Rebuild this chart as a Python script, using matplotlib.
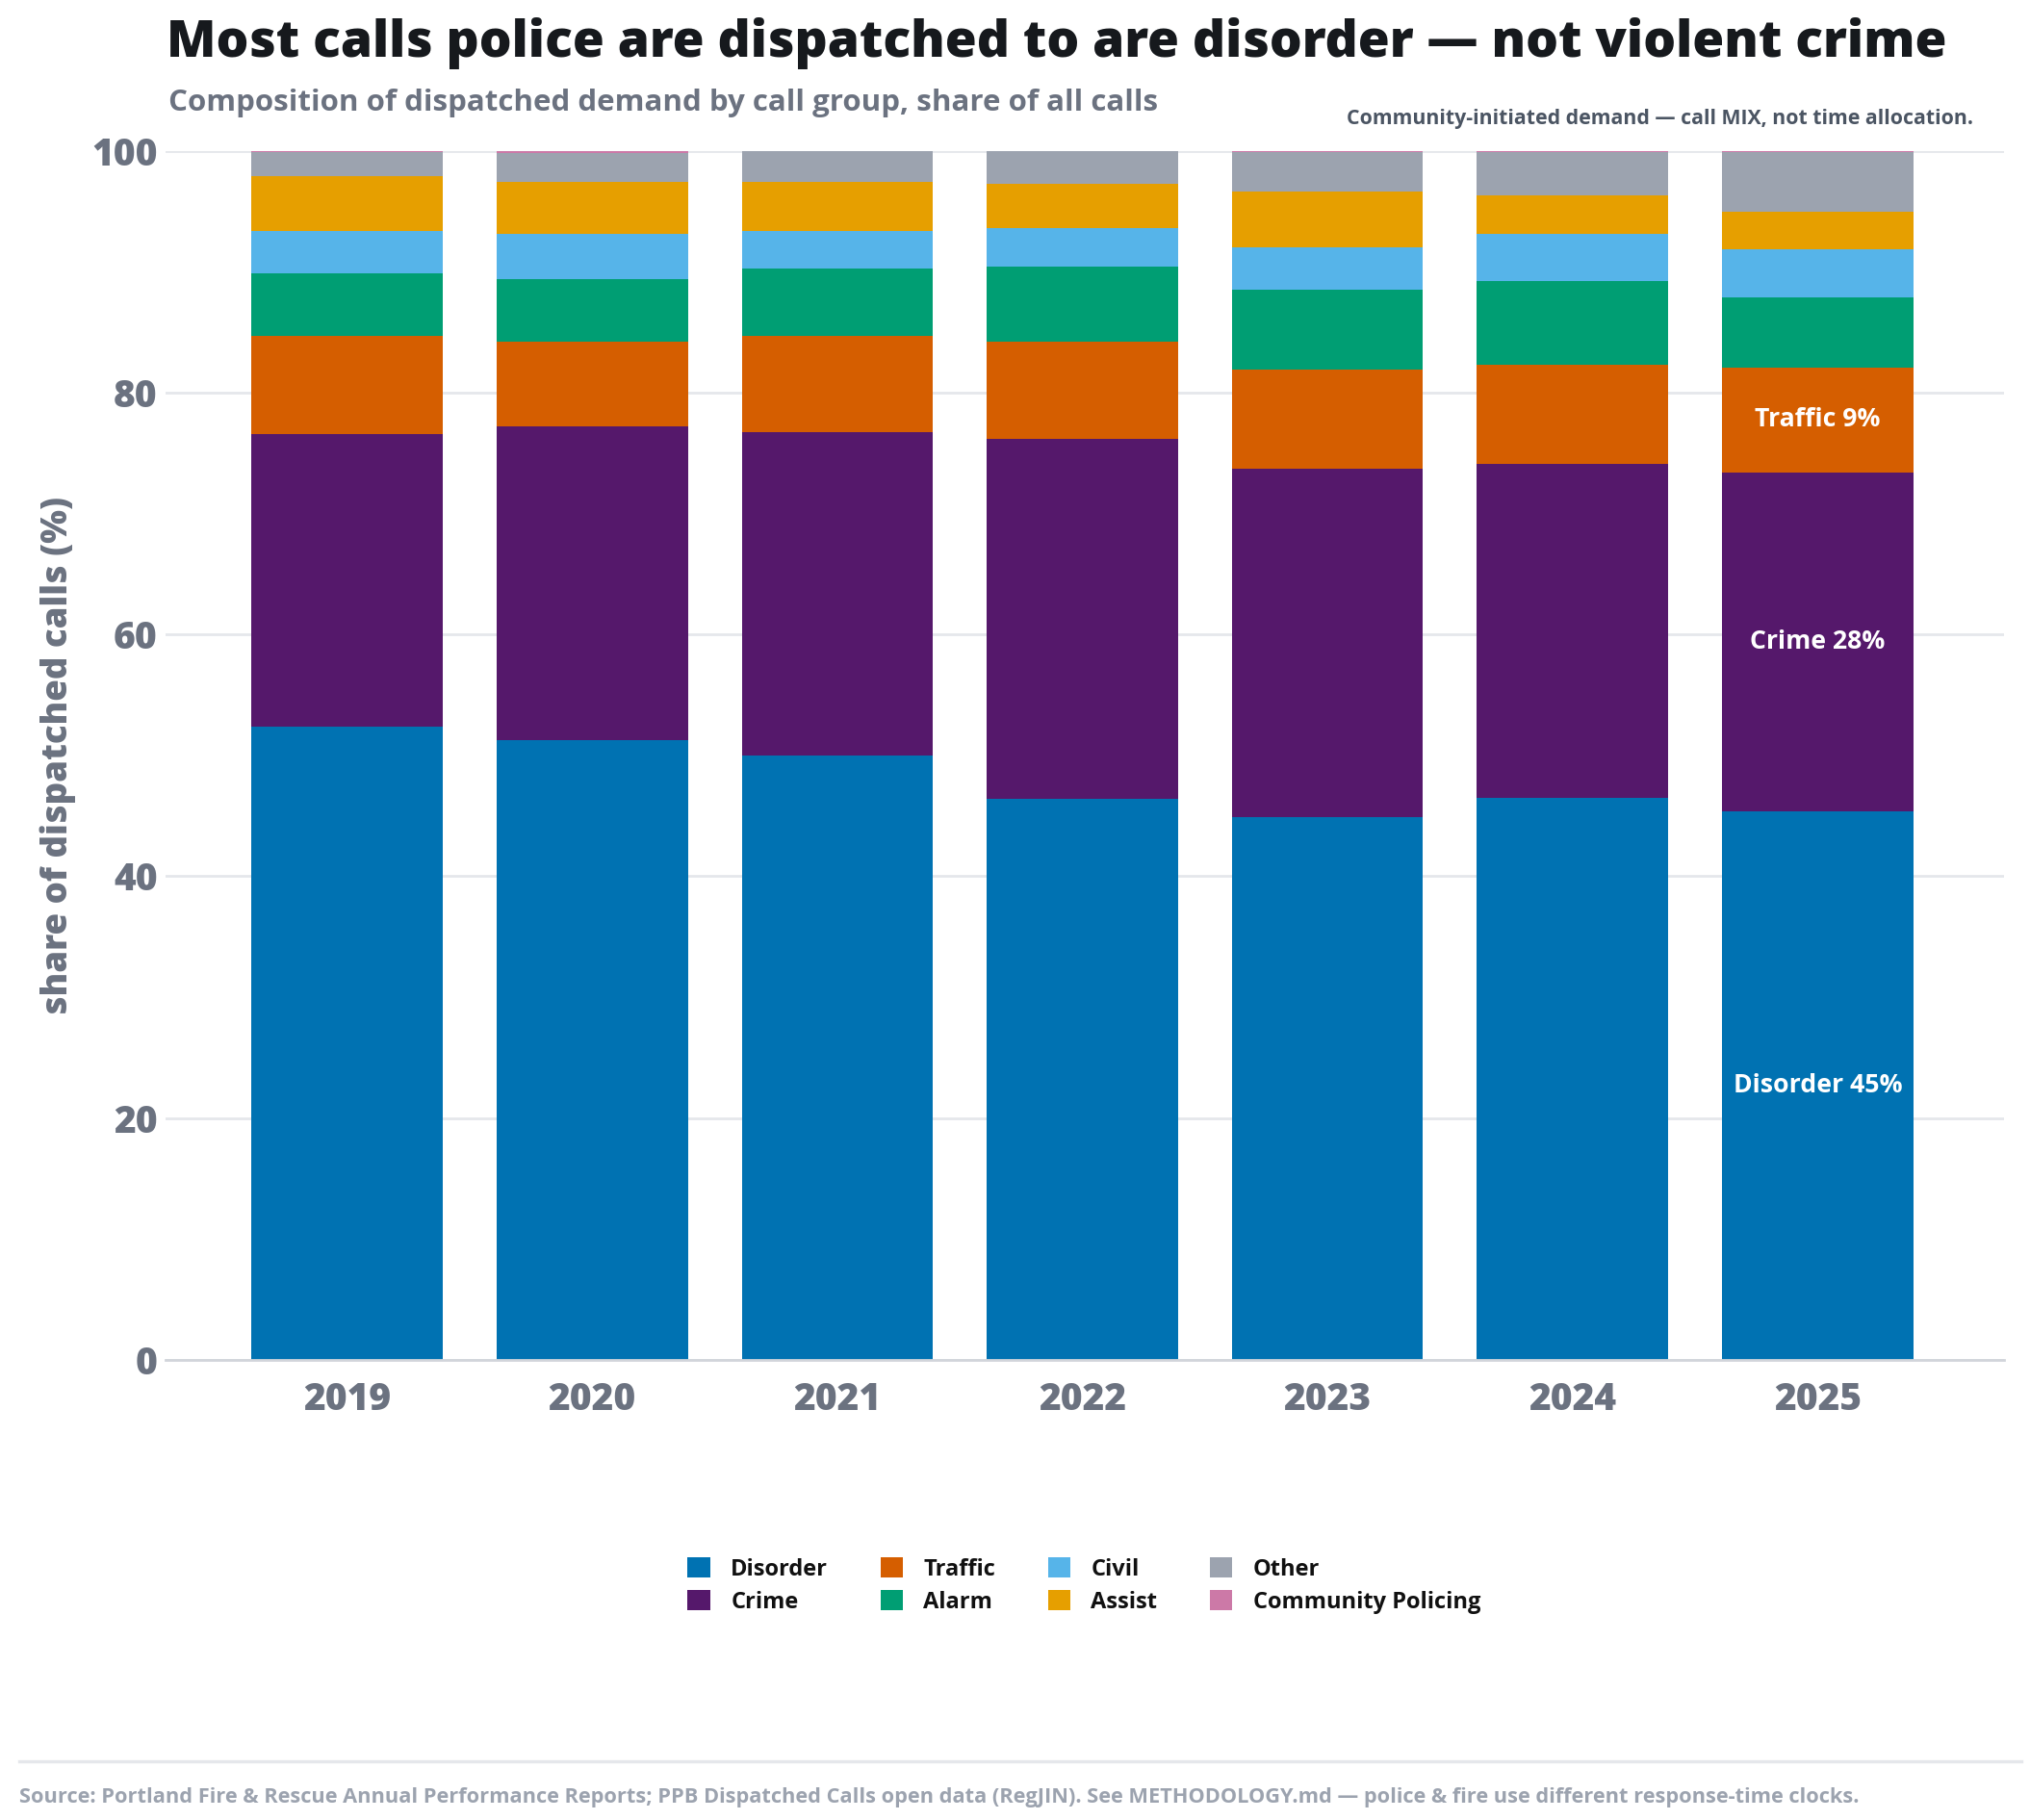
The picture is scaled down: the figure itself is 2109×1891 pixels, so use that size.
import matplotlib
matplotlib.use("Agg")
import matplotlib.pyplot as plt
import numpy as np

# data (share of dispatched calls, %)
years = ["2019", "2020", "2021", "2022", "2023", "2024", "2025"]
groups = ["Disorder", "Crime", "Traffic", "Alarm", "Civil", "Assist", "Other", "Community Policing"]

disorder = [52.35, 51.3, 50.0, 46.4, 44.9, 46.5, 45.4]
crime = [24.25, 25.9, 26.7, 29.8, 28.8, 27.6, 28.0]
traffic = [8.1, 7.0, 8.0, 8.0, 8.2, 8.2, 8.7]
alarm = [5.2, 5.2, 5.6, 6.2, 6.6, 6.9, 5.8]
civil = [3.5, 3.7, 3.1, 3.2, 3.5, 3.9, 4.0]
assist = [4.5, 4.3, 4.0, 3.7, 4.6, 3.2, 3.1]
other = [2.0, 2.4, 2.55, 2.65, 3.3, 3.6, 4.9]
community = [0.1, 0.25, 0.05, 0.05, 0.1, 0.1, 0.1]

colors = ["#0072B2", "#55186B", "#D55E00", "#009E73", "#56B4E9", "#E69F00", "#9CA3AF", "#CC79A7"]

plt.rcParams['font.family'] = ['Open Sans', 'DejaVu Sans']
plt.rcParams['font.weight'] = 'bold'

fig = plt.figure(figsize=(10.545, 9.455), dpi=200)
ax = fig.add_axes([0.0816, 0.2528, 0.9056, 0.6643])

series = [disorder, crime, traffic, alarm, civil, assist, other, community]
x = np.arange(len(years))
bottom = np.zeros(len(years))
for name, vals, c in zip(groups, series, colors):
    ax.bar(x, vals, width=0.78, bottom=bottom, color=c, label=name, zorder=3)
    bottom += np.array(vals)

# labels inside the last bar
last = len(years) - 1
for vals, base, name in [(disorder, 0, "Disorder"),
                         (crime, disorder[last], "Crime"),
                         (traffic, disorder[last] + crime[last], "Traffic")]:
    ax.text(x[last], base + vals[last] / 2, f"{name} {round(vals[last])}%",
            ha='center', va='center', color='white', fontsize=9.6, fontweight='bold', zorder=4)

ax.set_ylim(0, 100)
ax.set_xlim(-0.74, 6.76)
ax.set_yticks([0, 20, 40, 60, 80, 100])
ax.set_xticks(x)
ax.set_xticklabels(years)
ax.tick_params(axis='both', length=0, labelsize=14, labelcolor='#6B7280')
ax.tick_params(axis='x', pad=8)
ax.tick_params(axis='y', pad=3)
for lab in ax.get_xticklabels() + ax.get_yticklabels():
    lab.set_fontweight('heavy')
ax.grid(axis='y', color='#E5E7EB', linewidth=1.0, zorder=0)
for s in ['left', 'right', 'top']:
    ax.spines[s].set_visible(False)
ax.spines['bottom'].set_color('#D1D5DB')
ax.spines['bottom'].set_linewidth(1.0)
ax.spines['bottom'].set_zorder(5)
ax.set_ylabel("share of dispatched calls (%)", fontsize=13.2, color='#6B7280', fontweight='heavy', labelpad=6)

leg = fig.legend(loc='center', bbox_to_anchor=(0.534, 0.1287), ncol=4, frameon=False,
                 fontsize=8.5, handlelength=1.0, handleheight=1.0, columnspacing=2.3,
                 handletextpad=0.9, labelspacing=0.4)
for t in leg.get_texts():
    t.set_fontweight('bold')
    t.set_color('#111111')

fig.text(0.082, 0.976, "Most calls police are dispatched to are disorder \u2014 not violent crime",
         fontsize=19.2, fontweight='heavy', color='#16191D', va='center', ha='left')
fig.text(0.083, 0.9435, "Composition of dispatched demand by call group, share of all calls",
         fontsize=11.25, fontweight='bold', color='#6B7280', va='center', ha='left')
fig.text(0.972, 0.9345, "Community-initiated demand \u2014 call MIX, not time allocation.",
         fontsize=7.65, fontweight='bold', color='#4B5563', va='center', ha='right')

fig.add_artist(plt.Line2D([0.0095, 0.9955], [0.0325, 0.0325], color='#E5E7EB', linewidth=1.2))
fig.text(0.0095, 0.0125, "Source: Portland Fire & Rescue Annual Performance Reports; PPB Dispatched Calls open data (RegJIN). "
         "See METHODOLOGY.md \u2014 police & fire use different response-time clocks.",
         fontsize=7.85, fontweight='bold', color='#9CA3AF', va='center', ha='left')

fig.savefig("out.png", dpi=200)
